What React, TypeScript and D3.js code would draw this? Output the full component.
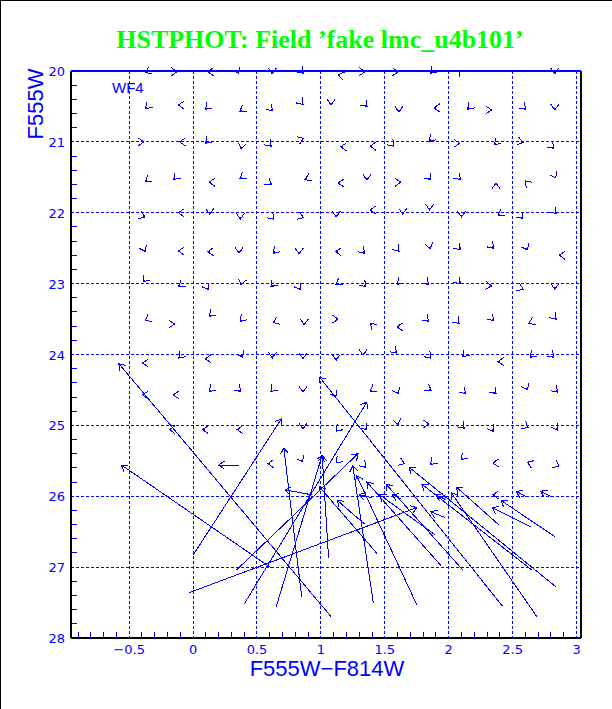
import React from 'react';
import * as d3 from 'd3';

const W = 612;
const H = 709;
const M = { left: 71, right: 581, top: 71, bottom: 638 };

const xTicks = [-0.5, 0, 0.5, 1, 1.5, 2, 2.5, 3];
const yTicks = [20, 21, 22, 23, 24, 25, 26, 27, 28];

// [colour, mag, dColour, dMag] for the bright fake stars (tiny shifts)
const smallShifts: number[][] = [
  [-0.36, 20.01, -0.014, 0.01], [-0.14, 20.01, 0.015, 0], [0.13, 20.01, -0.015, 0], [0.35, 20.01, 0.008, 0.026],
  [0.62, 20.01, 0, 0.03], [0.85, 20.01, 0.011, 0.021], [1.15, 20.06, -0.015, -0.005], [1.33, 20.01, 0.015, 0],
  [1.59, 20.01, 0.015, 0], [1.87, 20.01, -0.011, 0.021], [2.08, 20.01, 0.011, -0.021], [2.83, 20.01, 0, 0.03],

  [-0.36, 20.51, -0.011, 0.021], [-0.1, 20.48, -0.015, 0], [0.11, 20.52, -0.011, 0.021], [0.38, 20.55, -0.013, 0.015],
  [0.61, 20.54, 0.011, 0.021], [0.85, 20.45, 0.011, 0.021], [1.08, 20.45, 0, 0.03], [1.35, 20.48, 0.011, 0.021],
  [1.61, 20.55, 0, 0.03], [1.9, 20.52, -0.015, 0], [2.16, 20.52, -0.011, 0.021], [2.32, 20.55, 0.015, 0],
  [2.59, 20.52, 0.011, 0.021], [2.83, 20.52, 0, 0.03],

  [-0.4, 21.0, 0.015, 0], [-0.09, 21.0, -0.015, 0], [0.11, 21.0, -0.011, 0.021], [0.38, 21.07, -0.003, 0.03],
  [0.6, 21.04, 0.011, 0.021], [0.85, 20.96, 0.014, -0.01], [1.17, 21.07, -0.015, 0], [1.4, 21.06, -0.015, 0],
  [1.56, 21.04, 0.011, 0.021], [1.86, 20.97, -0.011, 0.021], [2.07, 21.02, 0.015, 0], [2.37, 21.02, -0.011, 0.021],
  [2.57, 21.0, 0.014, 0.005], [2.81, 21.07, 0.011, 0.021],

  [-0.36, 21.54, -0.013, 0.015], [-0.14, 21.51, -0.011, 0.021], [0.14, 21.57, -0.015, 0], [0.38, 21.5, -0.013, 0.015],
  [0.6, 21.58, 0.013, 0.015], [0.89, 21.52, -0.014, 0.01], [1.15, 21.58, -0.015, 0], [1.36, 21.51, 0, 0.03],
  [1.61, 21.57, 0.015, 0], [1.85, 21.51, 0.011, 0.021], [2.08, 21.51, 0.011, 0.021], [2.37, 21.61, 0, -0.03],
  [2.61, 21.57, -0.011, -0.021], [2.83, 21.48, 0.008, 0.026],

  [-0.39, 22.05, 0.014, 0.01], [-0.1, 22.0, -0.015, 0], [0.13, 21.99, 0, 0.03], [0.37, 22.06, 0, 0.03],
  [0.62, 22.07, 0.011, 0.021], [0.85, 22.06, 0.014, 0.01], [1.12, 22.03, 0, 0.03], [1.4, 21.96, -0.015, 0],
  [1.64, 21.99, 0, 0.03], [1.85, 21.93, 0, 0.03], [2.1, 22.03, 0, 0.03], [2.4, 22.02, -0.013, 0.015],
  [2.57, 22.06, 0.011, 0.021], [2.83, 21.99, 0.011, 0.021],

  [-0.38, 22.52, 0.008, 0.026], [-0.1, 22.54, -0.015, 0], [0.13, 22.55, -0.015, 0], [0.36, 22.54, 0, 0.03],
  [0.64, 22.55, -0.011, 0.021], [0.83, 22.55, 0, 0.03], [1.13, 22.55, -0.015, 0], [1.33, 22.55, 0.011, 0.021],
  [1.6, 22.52, 0.011, 0.021], [1.85, 22.48, 0.003, 0.03], [2.08, 22.5, 0.011, 0.021], [2.34, 22.48, 0.011, 0.021],
  [2.61, 22.5, 0.008, 0.026], [2.88, 22.6, -0.015, 0],

  [-0.38, 22.95, -0.011, 0.021], [-0.1, 23.02, -0.013, 0.015], [0.11, 23.06, 0.008, 0.026], [0.38, 22.99, -0.003, 0.03],
  [0.62, 23.02, -0.011, 0.021], [0.83, 23.06, 0.008, 0.026], [1.13, 23.0, -0.013, 0.015], [1.34, 23.02, 0.011, 0.021],
  [1.61, 22.99, -0.011, 0.021], [1.83, 22.99, 0.011, 0.021], [2.08, 22.98, 0.011, 0.021], [2.32, 23.03, 0.015, 0.003],
  [2.57, 23.07, 0.014, 0.01], [2.83, 23.05, 0, 0.03],

  [-0.36, 23.51, -0.013, 0.015], [-0.16, 23.57, 0.015, 0], [0.14, 23.44, -0.011, 0.021], [0.38, 23.51, -0.011, 0.021],
  [0.64, 23.54, -0.014, 0.01], [0.87, 23.55, 0, 0.03], [1.12, 23.5, 0.015, 0], [1.4, 23.58, -0.011, -0.021],
  [1.61, 23.61, -0.015, 0], [1.83, 23.51, 0.011, 0.021], [2.07, 23.54, 0.011, 0.021], [2.34, 23.5, 0.011, 0.021],
  [2.64, 23.55, -0.014, 0.01], [2.83, 23.48, 0.011, 0.021],

  [-0.38, 24.12, -0.015, 0], [-0.1, 24.03, -0.011, 0.021], [0.11, 24.06, -0.015, 0], [0.38, 24.01, 0.008, 0.026],
  [0.62, 24.02, 0, 0.03], [0.86, 24.03, 0, 0.03], [1.12, 24.05, 0, 0.03], [1.33, 23.98, 0, 0.03],
  [1.58, 23.96, 0.011, 0.021], [1.85, 24.03, 0.011, 0.021], [2.12, 24.01, -0.011, 0.021], [2.4, 24.1, -0.015, 0],
  [2.65, 24.02, -0.011, 0.021], [2.81, 24.02, 0.011, 0.021],

  [-0.38, 24.57, -0.015, 0], [-0.14, 24.57, -0.015, 0], [0.14, 24.5, -0.011, 0.021], [0.36, 24.5, 0.011, 0.021],
  [0.62, 24.5, -0.011, 0.021], [0.86, 24.5, 0, 0.03], [1.11, 24.57, 0.008, 0.026], [1.4, 24.5, -0.013, 0.015],
  [1.6, 24.53, 0.008, 0.026], [1.85, 24.49, 0.013, 0.015], [2.12, 24.53, 0.011, 0.021], [2.36, 24.53, 0.011, 0.021],
  [2.61, 24.47, 0.008, 0.026], [2.84, 24.51, 0.011, 0.021],

  [-0.17, 25.06, -0.015, 0], [0.09, 25.06, -0.015, 0], [0.36, 25.06, -0.015, 0], [0.86, 25.02, 0, 0.03],
  [1.13, 25.06, -0.011, 0.021], [1.35, 25.04, 0.011, 0.021], [1.6, 24.96, 0.003, 0.03], [1.83, 24.98, 0.015, 0],
  [2.11, 25.02, 0.011, 0.021], [2.34, 25.06, 0.008, 0.026], [2.61, 25.02, 0.013, 0.015], [2.84, 25.04, 0.008, 0.026],

  [0.6, 25.54, -0.015, 0], [0.85, 25.49, 0.008, 0.026], [1.13, 25.51, -0.011, 0.021], [1.34, 25.57, 0.011, 0.021],
  [1.64, 25.53, 0.014, 0.01], [1.87, 25.53, -0.011, 0.021], [2.11, 25.46, -0.011, 0.021], [2.36, 25.53, -0.015, 0],
  [2.63, 25.53, -0.014, -0.01], [2.85, 25.57, 0.013, 0.015],

  [2.36, 25.98, -0.015, 0],
];

// [colour, mag, dColour, dMag] for the faint fake stars (large shifts)
const largeShifts: number[][] = [
  [1.08, 27.7, -1.66, -3.57],
  [0.61, 27.01, -1.17, -1.45],
  [0.0, 26.83, 0.69, -1.92],
  [0.85, 27.42, -0.14, -2.1],
  [0.36, 25.56, -0.16, 0],
  [-0.03, 27.36, 1.78, -1.2],
  [0.34, 27.04, 0.95, -1.64],
  [0.4, 27.52, 0.96, -2.85],
  [0.65, 27.56, 0.36, -2.14],
  [1.06, 26.87, -0.05, -1.45],
  [0.93, 25.98, -0.21, -0.07],
  [2.42, 27.55, -1.43, -3.23],
  [2.84, 27.28, -1.15, -1.69],
  [2.65, 27.04, -0.86, -1.21],
  [2.83, 26.57, -0.42, -0.51],
  [2.64, 26.43, -0.3, -0.27],
  [2.39, 26.4, -0.33, -0.53],
  [2.69, 27.7, -0.67, -1.75],
  [2.11, 27.04, -0.6, -1.21],
  [1.94, 26.98, -0.58, -1.18],
  [1.89, 26.54, -0.43, -0.56],
  [1.75, 27.53, -0.47, -1.82],
  [1.41, 27.5, -0.16, -1.93],
  [1.44, 26.81, -0.45, -0.94],
  [1.34, 26.39, -0.21, -0.33],
  [1.97, 26.3, -0.11, -0.08],
  [1.98, 26.05, -0.08, -0.07],
  [1.4, 26.02, -0.1, -0.04],
  [1.63, 26.04, -0.07, -0.06],
  [2.61, 26.01, -0.08, -0.08],
  [2.81, 26.01, -0.09, -0.08],
];

const BLUE = '#0000ff';

export default function App() {
  const x = d3.scaleLinear().domain([-0.955, 3.035]).range([M.left, M.right]);
  const y = d3.scaleLinear().domain([20, 28]).range([M.top, M.bottom]);

  const xMinor = d3.range(-9, 31).filter(i => i % 5 !== 0).map(i => i / 10);
  const yMinor = d3.range(101, 140).filter(i => i % 5 !== 0).map(i => i / 5);

  const arrow = (d: number[], i: number, key: string) => {
    const x0 = x(d[0]);
    const y0 = y(d[1]);
    const x1 = x(d[0] + d[2]);
    const y1 = y(d[1] + d[3]);
    const a = Math.atan2(y1 - y0, x1 - x0);
    const L = 7;
    const phi = (35 * Math.PI) / 180;
    const p = d3.path();
    p.moveTo(x0, y0);
    p.lineTo(x1, y1);
    p.moveTo(x1 - L * Math.cos(a - phi), y1 - L * Math.sin(a - phi));
    p.lineTo(x1, y1);
    p.lineTo(x1 - L * Math.cos(a + phi), y1 - L * Math.sin(a + phi));
    return <path key={key + i} d={p.toString()} fill="none" stroke={BLUE} strokeWidth={1} />;
  };

  return (
    <div>
      <style>{'body{margin:0}'}</style>
      <svg width={W} height={H} style={{ display: 'block', background: '#fff' }} shapeRendering="crispEdges">
        <line x1={0.5} x2={0.5} y1={0} y2={H} stroke="#000" strokeWidth={1.5} />
        <line x1={0} x2={W} y1={0.5} y2={0.5} stroke="#000" strokeWidth={1.5} />

        <text x={320} y={48} textAnchor="middle" fill="#00ff00"
          style={{ fontFamily: '"Liberation Serif", serif', fontWeight: 'bold', fontSize: 26 }}>
          HSTPHOT: Field ’fake lmc_u4b101’
        </text>

        {/* grid */}
        {xTicks.map(t => (
          <line key={'gx' + t} x1={x(t)} x2={x(t)} y1={M.top} y2={M.bottom}
            stroke={BLUE} strokeDasharray="3,2" strokeWidth={1} />
        ))}
        {yTicks.slice(1, -1).map(t => (
          <line key={'gy' + t} x1={M.left} x2={M.right} y1={y(t)} y2={y(t)}
            stroke={BLUE} strokeDasharray="3,2" strokeWidth={1} />
        ))}

        {/* minor ticks */}
        {xMinor.map(t => (
          <line key={'mx' + t} x1={x(t)} x2={x(t)} y1={M.bottom} y2={M.bottom - 6} stroke={BLUE} />
        ))}
        {yMinor.map(t => (
          <line key={'my' + t} x1={M.left} x2={M.left + 6} y1={y(t)} y2={y(t)} stroke={BLUE} />
        ))}

        {/* frame */}
        <line x1={M.left} x2={M.right} y1={M.top} y2={M.top} stroke={BLUE} strokeWidth={1.5} />
        <line x1={M.left} x2={M.right} y1={M.bottom} y2={M.bottom} stroke="#000" strokeWidth={1.5} />
        <line x1={M.left} x2={M.left} y1={M.top} y2={M.bottom} stroke="#000" strokeWidth={1.5} />
        <line x1={M.right} x2={M.right} y1={M.top} y2={M.bottom} stroke="#000" strokeWidth={1.5} />

        {/* tick labels */}
        {xTicks.map(t => (
          <text key={'tx' + t} x={x(t)} y={654} textAnchor="middle" fill={BLUE}
            style={{ fontFamily: '"DejaVu Sans", sans-serif', fontSize: 13 }}>
            {t < 0 ? '−' + String(-t) : String(t)}
          </text>
        ))}
        {yTicks.map(t => (
          <text key={'ty' + t} x={65} y={y(t) + 5} textAnchor="end" fill={BLUE}
            style={{ fontFamily: '"DejaVu Sans", sans-serif', fontSize: 13 }}>
            {t}
          </text>
        ))}

        <text x={327} y={676} textAnchor="middle" fill={BLUE}
          style={{ fontFamily: '"Liberation Sans", sans-serif', fontSize: 22 }}>
          F555W−F814W
        </text>
        <text transform="translate(43,104) rotate(-90)" textAnchor="middle" fill={BLUE}
          style={{ fontFamily: '"Liberation Sans", sans-serif', fontSize: 22 }}>
          F555W
        </text>
        <text x={112} y={93} fill={BLUE} style={{ fontFamily: '"Liberation Sans", sans-serif', fontSize: 15 }}>
          WF4
        </text>

        {smallShifts.map((d, i) => arrow(d, i, 's'))}
        {largeShifts.map((d, i) => arrow(d, i, 'l'))}
      </svg>
    </div>
  );
}
